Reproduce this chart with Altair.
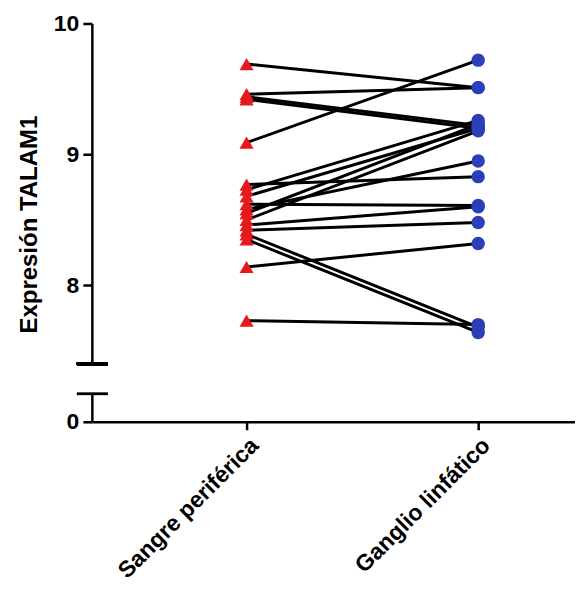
import altair as alt
import pandas as pd

categories = ["Sangre periférica", "Ganglio linfático"]
sangre = [9.69, 9.46, 9.44, 9.42, 9.09, 8.77, 8.73, 8.68, 8.62, 8.58, 8.55, 8.50, 8.46, 8.42, 8.39, 8.35, 8.14, 7.73]
ganglio = [9.51, 9.51, 9.22, 9.20, 9.72, 8.83, 9.26, 9.20, 8.61, 8.95, 9.23, 9.18, 8.60, 8.48, 7.68, 7.64, 8.32, 7.70]
y_ticks = [8, 9, 10]

rows = []
for i, (a, b) in enumerate(zip(sangre, ganglio)):
    rows.append({"pair": i, "x": 0, "grupo": categories[0], "valor": a})
    rows.append({"pair": i, "x": 1, "grupo": categories[1], "valor": b})
df = pd.DataFrame(rows)

FONT = "Liberation Sans"
W = 484
H = 341
xdom = [-0.668, 1.418]

xscale = alt.Scale(domain=xdom, nice=False, zero=False)
label_expr = "datum.value == 0 ? '" + categories[0] + "' : '" + categories[1] + "'"

base = alt.Chart(df)
lines = base.mark_line(color="black", strokeWidth=3).encode(
    x=alt.X("x:Q", scale=xscale, axis=None),
    y=alt.Y("valor:Q", scale=alt.Scale(domain=[7.40, 10], nice=False, zero=False),
            axis=alt.Axis(values=y_ticks, format="d", title="Expresión TALAM1",
                          titleFont=FONT, titleFontSize=24, titleFontWeight="bold",
                          titleColor="black", titleY=201, titleX=-50,
                          labelFont=FONT, labelFontSize=23, labelFontWeight="bold",
                          labelColor="black", domainColor="black", domainWidth=2.5,
                          tickColor="black", tickWidth=2.5, tickSize=9, grid=False,
                          labelPadding=4)),
    detail="pair:N",
)
tri = base.transform_filter("datum.x == 0").mark_point(
    shape="triangle-up", filled=True, color="#e41a1c", size=200, opacity=1
).encode(x=alt.X("x:Q", scale=xscale), y="valor:Q")
circ = base.transform_filter("datum.x == 1").mark_point(
    shape="circle", filled=True, color="#2a3fb8", size=180, opacity=1
).encode(x=alt.X("x:Q", scale=xscale), y="valor:Q")
cap_top = alt.Chart(df).mark_rule(color="black", strokeWidth=2.5).encode(
    x=alt.value(-15), x2=alt.value(16), y=alt.value(H)
)
top = alt.layer(lines, tri, circ, cap_top).properties(width=W, height=H)

cat_df = pd.DataFrame({"x": [0, 1], "grupo": categories, "v": [0, 0]})
bpts = alt.Chart(cat_df).mark_point(opacity=0).encode(
    x=alt.X("x:Q", scale=xscale,
            axis=alt.Axis(values=[0, 1], labelExpr=label_expr, title=None,
                          labelAngle=-45, labelFont=FONT, labelFontSize=23,
                          labelFontWeight="bold", labelColor="black", labelLimit=0,
                          domainColor="black", domainWidth=2.5, tickColor="black",
                          tickWidth=2.5, tickSize=8, grid=False, labelPadding=4)),
    y=alt.Y("v:Q", scale=alt.Scale(domain=[0, 0.2], nice=False),
            axis=alt.Axis(values=[0], format="d", title=None, labelFont=FONT,
                          labelFontSize=23, labelFontWeight="bold", labelColor="black",
                          domainColor="black", domainWidth=2.5, tickColor="black",
                          tickWidth=2.5, tickSize=9, grid=False, labelPadding=4)),
)
cap_bot = alt.Chart(cat_df).mark_rule(color="black", strokeWidth=2.5).encode(
    x=alt.value(-15), x2=alt.value(16), y=alt.value(0)
)
bottom = alt.layer(bpts, cap_bot).properties(width=W, height=28)

chart = alt.vconcat(top, bottom, spacing=26).properties(
    padding={"top": 4, "left": 10, "right": 0, "bottom": 5}
).configure(background="white", view=alt.ViewConfig(stroke=None))

chart.save("out.html", embed_options={"renderer": "svg", "actions": False})
